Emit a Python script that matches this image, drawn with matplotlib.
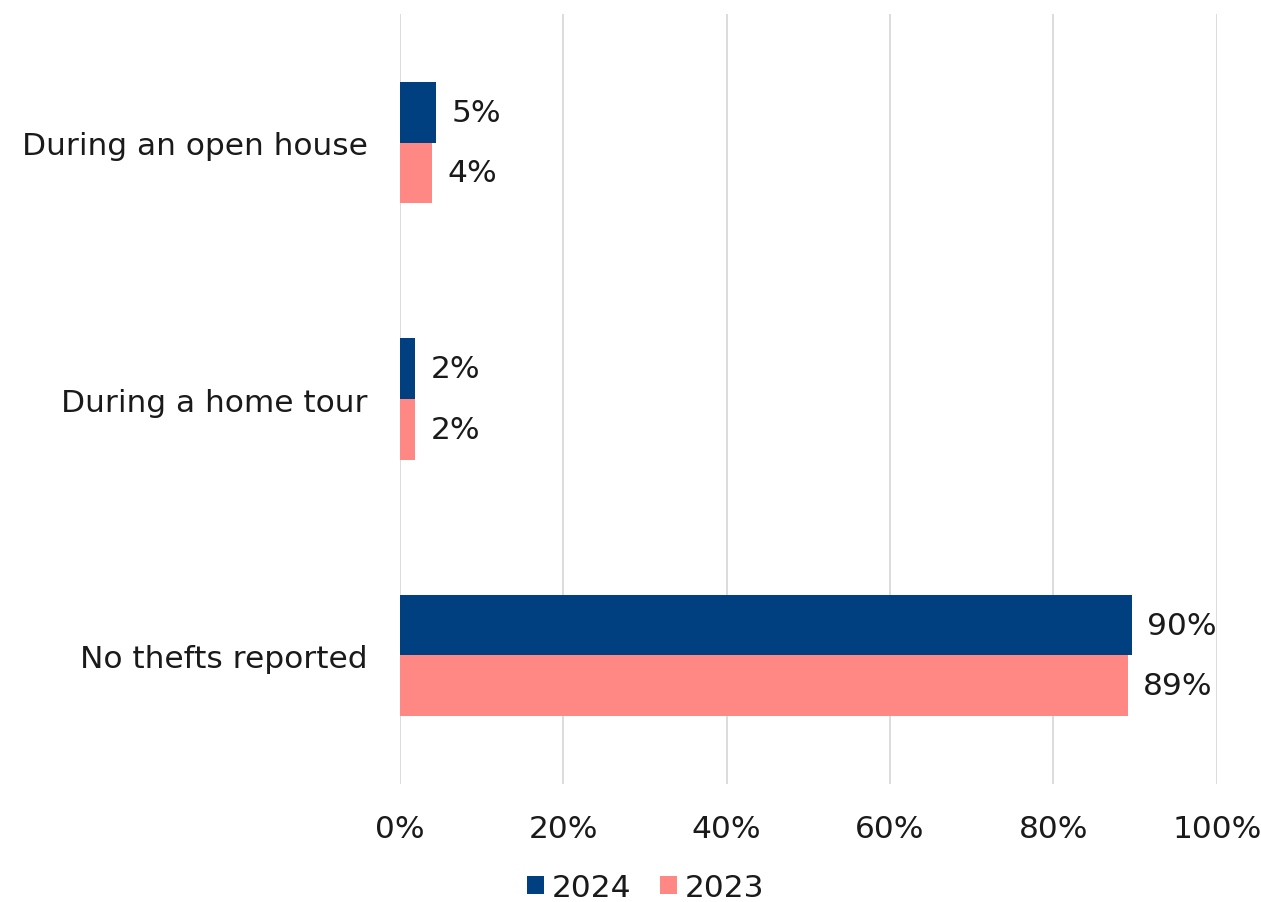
import numpy as np
import matplotlib.pyplot as plt

plt.rcParams['font.family'] = ['DejaVu Sans']

categories = ["During an open house", "During a home tour", "No thefts reported"]
vals_2024 = [4.4, 1.9, 89.6]
vals_2023 = [3.9, 1.9, 89.1]
labels_2024 = ["5%", "2%", "90%"]
labels_2023 = ["4%", "2%", "89%"]
xticks = [0, 20, 40, 60, 80, 100]

c2024 = "#003F80"
c2023 = "#FF8884"
txt = "#1a1a1a"
fs = 22.5

fig = plt.figure(figsize=(12.61, 9.03), dpi=100)
ax = fig.add_axes([0.317, 0.131, 0.648, 0.852])

y = np.arange(len(categories))
h = 0.237
b1 = ax.barh(y - h/2, vals_2024, height=h, color=c2024, label="2024", zorder=3)
b2 = ax.barh(y + h/2, vals_2023, height=h, color=c2023, label="2023", zorder=3)

for bars, labs in ((b1, labels_2024), (b2, labels_2023)):
    for bar, lab in zip(bars, labs):
        ax.text(bar.get_width() + 1.9, bar.get_y() + bar.get_height()/2, lab,
                va="center", ha="left", fontsize=fs, color=txt)

ax.set_xlim(0, 100)
ax.set_ylim(2.5, -0.5)
ax.set_yticks(y)
ax.set_yticklabels(categories, fontsize=fs, color=txt, va="center_baseline")
ax.set_xticks(xticks)
ax.set_xticklabels(["%d%%" % t for t in xticks], fontsize=fs, color=txt)
ax.tick_params(axis="both", length=0)
ax.tick_params(axis="y", pad=23)
ax.tick_params(axis="x", pad=22)
ax.grid(axis="x", color="#D9D9D9", linewidth=1.3, zorder=0)
for s in ax.spines.values():
    s.set_visible(False)

leg = fig.legend(handles=[b1, b2], loc="center", bbox_to_anchor=(0.512, 0.016),
                 ncol=2, frameon=False, fontsize=fs, handlelength=0.55,
                 handleheight=0.55, handletextpad=0.25, columnspacing=0.9)
for t in leg.get_texts():
    t.set_color(txt)

fig.savefig("out.png", dpi=100)
